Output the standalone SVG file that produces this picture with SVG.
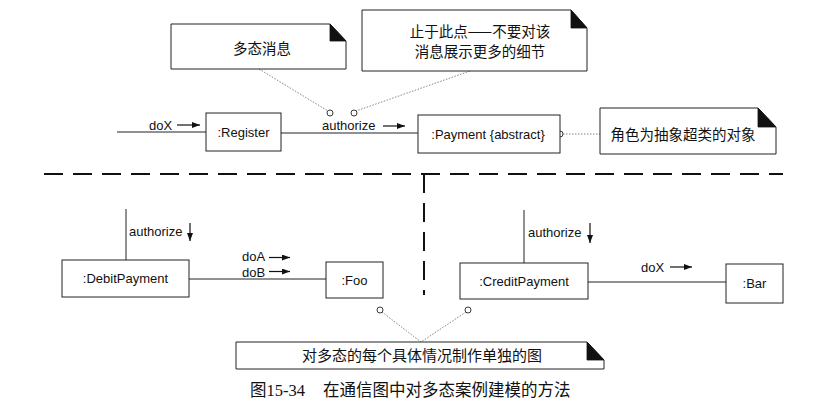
<svg xmlns="http://www.w3.org/2000/svg" width="825" height="413" viewBox="0 0 825 413">
<defs>
<marker id="ah" markerWidth="8" markerHeight="6" refX="8" refY="3" orient="auto" markerUnits="userSpaceOnUse"><path d="M0,0 L8,3 L0,6 z" fill="#111"/></marker>
</defs>
<style>
.box{fill:#fff;stroke:#222;stroke-width:1}
.lbl{font-family:"Liberation Sans",Arial,sans-serif;font-size:13px;fill:#111}
.mid{text-anchor:middle}
.cn{font-family:"Noto Sans CJK SC",sans-serif;font-size:14.5px;fill:#111;text-anchor:middle}
.link{stroke:#222;stroke-width:1;fill:none}
.dot{stroke:#666;stroke-width:0.8;stroke-dasharray:1.5 1.5;fill:none}
.msg{stroke:#111;stroke-width:1.2;fill:none;marker-end:url(#ah)}
.anchor{fill:#fff;stroke:#222;stroke-width:0.9}
.fold{fill:#111;stroke:#111;stroke-width:0.8}
.note{fill:#fff;stroke:#222;stroke-width:1}
.sep{stroke:#111;stroke-width:2;stroke-dasharray:19 10;fill:none}
.cap{font-family:"Liberation Serif","Noto Sans CJK SC",serif;font-size:16.5px;fill:#111}
</style>
<rect x="0" y="0" width="825" height="413" fill="#fff"/>

<g id="separators">
<path class="sep" d="M44,174 H783"/>
<path class="sep" d="M424,174 V295"/>
</g>

<g id="connectors">
<line class="link" x1="117" y1="132" x2="206" y2="132"/>
<line class="link" x1="281" y1="133" x2="418" y2="133"/>
<line class="link" x1="126" y1="209" x2="126" y2="260"/>
<line class="link" x1="189" y1="279" x2="326" y2="279"/>
<line class="link" x1="524" y1="210" x2="524" y2="263"/>
<line class="link" x1="588" y1="282" x2="726" y2="282"/>
<line class="dot" x1="259" y1="69" x2="328" y2="111"/>
<line class="dot" x1="470" y1="71" x2="356" y2="111"/>
<line class="dot" x1="563" y1="134" x2="600" y2="134"/>
<line class="dot" x1="382" y1="312" x2="421" y2="342"/>
<line class="dot" x1="466" y1="312" x2="421" y2="342"/>
<circle class="anchor" cx="330" cy="113" r="3"/>
<circle class="anchor" cx="354" cy="113" r="3"/>
<circle class="anchor" cx="560" cy="134" r="3"/>
<circle class="anchor" cx="380" cy="310" r="3"/>
<circle class="anchor" cx="468" cy="310" r="3"/>
<text class="lbl" x="149" y="130">doX</text>
<line class="msg" x1="177" y1="125" x2="200" y2="125"/>
<text class="lbl" x="322" y="130">authorize</text>
<line class="msg" x1="383" y1="126" x2="405" y2="126"/>
<text class="lbl" x="129" y="236">authorize</text>
<line class="msg" x1="190" y1="223" x2="190" y2="241"/>
<text class="lbl" x="242" y="261">doA</text>
<line class="msg" x1="269" y1="257.5" x2="290" y2="257.5"/>
<text class="lbl" x="242" y="276.5">doB</text>
<line class="msg" x1="269" y1="271.5" x2="290" y2="271.5"/>
<text class="lbl" x="528" y="237">authorize</text>
<line class="msg" x1="590" y1="223" x2="590" y2="243"/>
<text class="lbl" x="641" y="272">doX</text>
<line class="msg" x1="670" y1="267" x2="692" y2="267"/>
</g>

<g id="note-polymorphic">
<polygon class="note" points="171,24 330,24 346,41 346,69 171,69"/>
<polygon class="fold" points="330,24 346,41 330,41"/>
<text class="cn" x="262" y="54">多态消息</text>
</g>

<g id="note-stop">
<polygon class="note" points="362,10 571,10 587,28 587,71 362,71"/>
<polygon class="fold" points="571,10 587,28 571,28"/>
<text class="cn" x="480" y="37">止于此点——不要对该</text>
<text class="cn" x="480" y="57">消息展示更多的细节</text>
</g>

<g id="note-role">
<polygon class="note" points="600,108 758,108 776,127 776,154 600,154"/>
<polygon class="fold" points="758,108 776,127 758,127"/>
<text class="cn" x="683" y="140">角色为抽象超类的对象</text>
</g>

<g id="register">
<rect class="box" x="206" y="113" width="75" height="38"/>
<text class="lbl mid" x="243.5" y="137">:Register</text>
</g>

<g id="payment">
<rect class="box" x="418" y="115" width="142" height="38"/>
<text class="lbl mid" x="488" y="139">:Payment {abstract}</text>
</g>

<g id="debitpayment">
<rect class="box" x="62" y="260" width="127" height="37"/>
<text class="lbl mid" x="125.5" y="283">:DebitPayment</text>
</g>

<g id="foo">
<rect class="box" x="326" y="262" width="57" height="36"/>
<text class="lbl mid" x="354.5" y="285">:Foo</text>
</g>

<g id="creditpayment">
<rect class="box" x="460" y="263" width="128" height="36"/>
<text class="lbl mid" x="524" y="286">:CreditPayment</text>
</g>

<g id="bar">
<rect class="box" x="726" y="264" width="57" height="39"/>
<text class="lbl mid" x="754.5" y="288">:Bar</text>
</g>

<g id="note-each">
<polygon class="note" points="236,342 587,342 604,360 604,369 236,369"/>
<polygon class="fold" points="587,342 604,360 587,360"/>
<text class="cn" x="422" y="361" style="font-size:15px">对多态的每个具体情况制作单独的图</text>
</g>

<g id="caption">
<text class="cap" x="250" y="396">图15-34</text>
<text class="cap" x="323" y="396">在通信图中对多态案例建模的方法</text>
</g>
</svg>
